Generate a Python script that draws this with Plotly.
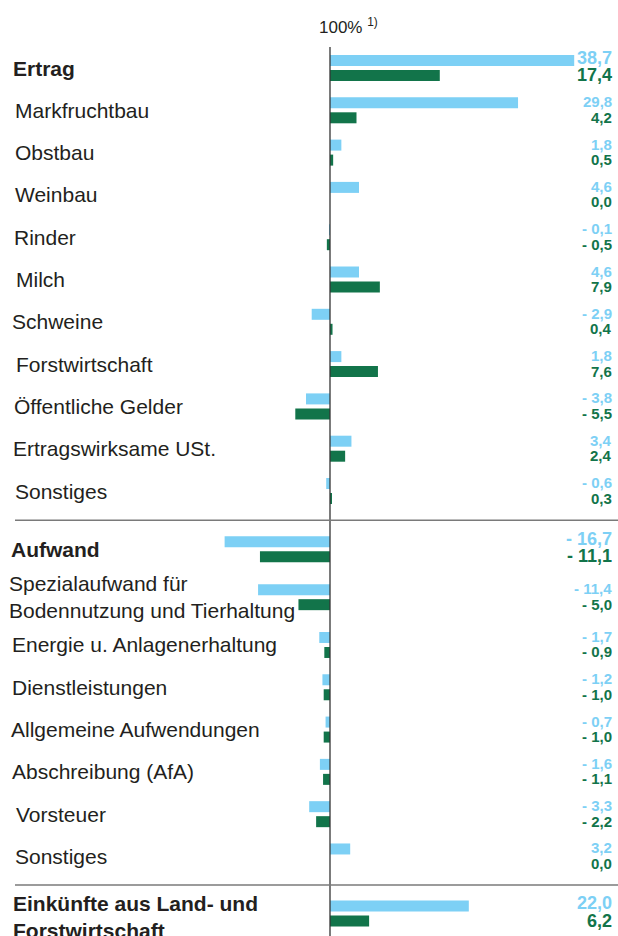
import plotly.graph_objects as go

# ---------------- data ----------------
categories = [
    "Ertrag", "Markfruchtbau", "Obstbau", "Weinbau", "Rinder", "Milch",
    "Schweine", "Forstwirtschaft", "Öffentliche Gelder", "Ertragswirksame USt.",
    "Sonstiges",
    "Aufwand", "Spezialaufwand für<br>Bodennutzung und Tierhaltung",
    "Energie u. Anlagenerhaltung", "Dienstleistungen", "Allgemeine Aufwendungen",
    "Abschreibung (AfA)", "Vorsteuer", "Sonstiges",
    "Einkünfte aus Land- und<br>Forstwirtschaft",
]
series_blue = [38.7, 29.8, 1.8, 4.6, -0.1, 4.6, -2.9, 1.8, -3.8, 3.4, -0.6,
               -16.7, -11.4, -1.7, -1.2, -0.7, -1.6, -3.3, 3.2, 22.0]
series_green = [17.4, 4.2, 0.5, 0.0, -0.5, 7.9, 0.4, 7.6, -5.5, 2.4, 0.3,
                -11.1, -5.0, -0.9, -1.0, -1.0, -1.1, -2.2, 0.0, 6.2]
total_rows = ["Ertrag", "Aufwand", "Einkünfte aus Land- und<br>Forstwirtschaft"]
axis_label = "100% <sup>1)</sup>"

# ---------------- layout helpers ----------------
W, H = 618, 936
BLUE = "#7dd0f5"
GREEN = "#12744a"
TXT = "#231f20"

# extra vertical spacing (in row units) before some rows
extra_gap = {11: 0.38, 12: 0.13, 13: 0.13, 19: 0.35}
rows_y = []
pos = 0.0
for i in range(len(categories)):
    if i > 0:
        pos += 1.0 + extra_gap.get(i, 0.0)
    rows_y.append(pos)

ROW_PX = 42.3
TOP_PX = 68.0
y_top = -TOP_PX / ROW_PX
y_bot = (H - TOP_PX) / ROW_PX

PX_PER_UNIT = 6.31
ZERO_PX = 330.0
x_min = -ZERO_PX / PX_PER_UNIT
x_max = (W - ZERO_PX) / PX_PER_UNIT

bar_w = 11.0 / ROW_PX
half_sep = 7.5 / ROW_PX

fig = go.Figure()
fig.add_trace(go.Bar(
    x=series_blue, y=rows_y, orientation="h",
    width=bar_w, offset=-half_sep - bar_w / 2,
    marker=dict(color=BLUE, line=dict(width=0)),
    hoverinfo="skip", showlegend=False,
))
fig.add_trace(go.Bar(
    x=series_green, y=rows_y, orientation="h",
    width=bar_w, offset=half_sep - bar_w / 2,
    marker=dict(color=GREEN, line=dict(width=0)),
    hoverinfo="skip", showlegend=False,
))

label_dx = [12, 14, 14, 14, 13, 15, 11, 15, 13, 12, 14,
            10, 8, 11, 11, 10, 11, 15, 14, 12]
label_dy = {19: 3.0}


def fmt(v):
    s = f"{abs(v):.1f}".replace(".", ",")
    return ("- " + s) if v < 0 else s


annotations = []
for i, cat in enumerate(categories):
    is_total = cat in total_rows
    txt = f"<b>{cat}</b>" if is_total else cat
    annotations.append(dict(
        x=label_dx[i] / W, xref="paper",
        y=rows_y[i] + label_dy.get(i, 0.0) / ROW_PX, yref="y",
        text=txt, showarrow=False, xanchor="left", yanchor="middle",
        align="left", font=dict(size=21, color=TXT), borderpad=0,
    ))
    vsize = 18 if is_total else 15
    boff = (-10.5 if is_total else -8.5) / ROW_PX
    goff = 7.0 / ROW_PX
    annotations.append(dict(
        x=613 / W, xref="paper", y=rows_y[i] + boff, yref="y",
        text=f"<b>{fmt(series_blue[i])}</b>", showarrow=False,
        xanchor="right", yanchor="middle",
        font=dict(size=vsize, color=BLUE), borderpad=0,
    ))
    annotations.append(dict(
        x=613 / W, xref="paper", y=rows_y[i] + goff, yref="y",
        text=f"<b>{fmt(series_green[i])}</b>", showarrow=False,
        xanchor="right", yanchor="middle",
        font=dict(size=vsize, color=GREEN), borderpad=0,
    ))

annotations.append(dict(
    x=318 / W, xref="paper", y=1 - 26 / H, yref="paper",
    text=axis_label, showarrow=False, xanchor="left", yanchor="middle",
    font=dict(size=17, color=TXT), borderpad=0,
))

shapes = [
    dict(type="line", xref="x", yref="paper", x0=0, x1=0,
         y0=0, y1=1 - 47 / H, line=dict(color="#333333", width=1.3)),
]
# separators between sections
for a, b in [(10, 11), (18, 19)]:
    ysep = (rows_y[a] + rows_y[b]) / 2
    shapes.append(dict(type="line", xref="paper", yref="y",
                       x0=15 / W, x1=1, y0=ysep, y1=ysep,
                       line=dict(color="#7a7a7a", width=1.5)))

fig.update_layout(
    width=W, height=H,
    margin=dict(l=0, r=0, t=0, b=0),
    paper_bgcolor="white", plot_bgcolor="white",
    barmode="overlay",
    font=dict(family="Liberation Sans, Arial, sans-serif", color=TXT),
    xaxis=dict(range=[x_min, x_max], visible=False, fixedrange=True),
    yaxis=dict(range=[y_bot, y_top], visible=False, fixedrange=True),
    annotations=annotations, shapes=shapes,
)

fig.write_html(
    "out.html",
    config={"displayModeBar": False},
    post_script="document.body.style.margin='0';document.body.style.overflow='hidden';",
)
